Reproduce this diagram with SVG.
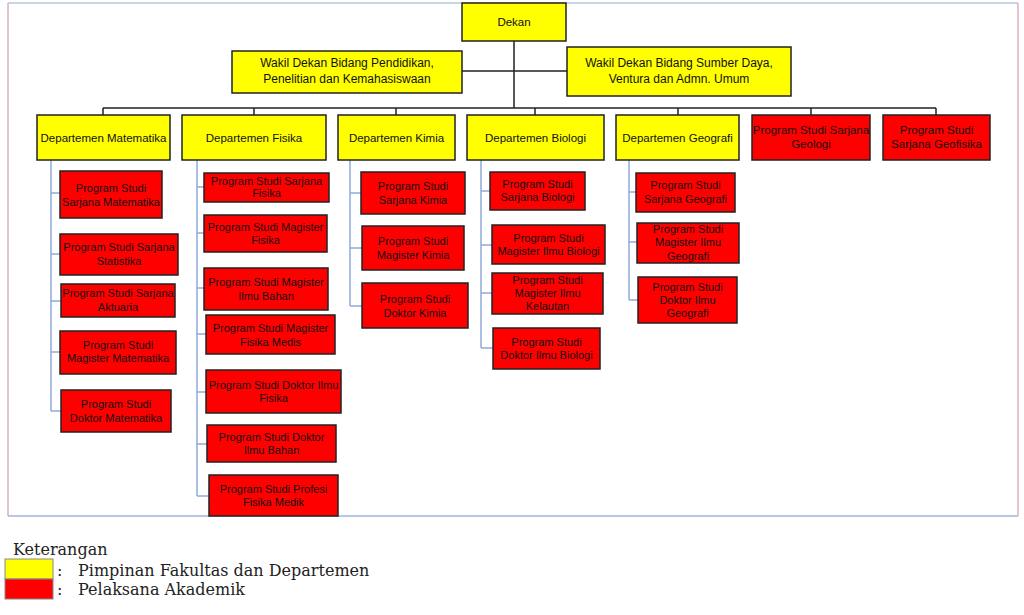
<svg xmlns="http://www.w3.org/2000/svg" width="1024" height="615" viewBox="0 0 1024 615">
<style>
.y{fill:#ffff00;stroke:#222;stroke-width:1.5}
.r{fill:#ff0000;stroke:#222;stroke-width:1.5}
.t{font-family:"Liberation Sans",Arial,sans-serif;font-size:11px;fill:#111;text-anchor:middle}
.td{font-family:"Liberation Sans",Arial,sans-serif;font-size:11.5px;fill:#111;text-anchor:middle}
.tw{font-family:"Liberation Sans",Arial,sans-serif;font-size:12px;fill:#111;text-anchor:middle}
.k{stroke:#222;stroke-width:1.5;fill:none}
.b{stroke:#8eaad8;stroke-width:1.5;fill:none}
.lg{font-family:"DejaVu Serif","Liberation Serif",serif;font-size:16px;fill:#222}
</style>
<rect width="1024" height="615" fill="#fff"/>
<g id="frame">
<line x1="8" y1="3" x2="1018" y2="3" stroke="#b8c8dc" stroke-width="1.5"/>
<line x1="8" y1="3" x2="8" y2="516" stroke="#d8b0c0" stroke-width="1.5"/>
<line x1="1018" y1="3" x2="1018" y2="516" stroke="#d8b0c8" stroke-width="1.5"/>
<line x1="8" y1="516" x2="1018" y2="516" stroke="#a0b4d8" stroke-width="1.5"/>
</g>
<g id="connectors">
<path class="k" d="M514 41V108M462 71H567M103 108H936M103 108V115M254 108V115M396 108V115M535 108V115M678 108V115M811 108V115M936 108V115"/>
<path class="b" d="M51 160V411M51 193H60M51 254H60M51 301H61M51 352H60M51 411H61"/>
<path class="b" d="M197 160V496M197 187H204M197 233H204M197 288H204M197 334H206M197 392H206M197 444H207M197 496H209"/>
<path class="b" d="M350 160V306M350 193H361M350 248H362M350 306H362"/>
<path class="b" d="M481 160V348M481 191H490M481 245H492M481 293H492M481 348H493"/>
<path class="b" d="M629 160V300M629 192H636M629 242H637M629 300H638"/>
</g>
<g id="dekan"><rect class="y" x="462" y="3" width="104" height="38"/><text class="td" x="514" y="26">Dekan</text></g>
<g id="wakil1"><rect class="y" x="232" y="51" width="230" height="42"/><text class="tw" x="347" y="67">Wakil Dekan Bidang Pendidikan,</text><text class="tw" x="347" y="83">Penelitian dan Kemahasiswaan</text></g>
<g id="wakil2"><rect class="y" x="567" y="47" width="224" height="49"/><text class="tw" x="679" y="67">Wakil Dekan Bidang Sumber Daya,</text><text class="tw" x="679" y="83">Ventura dan Admn. Umum</text></g>
<g id="dep-mat"><rect class="y" x="37" y="115" width="133" height="45"/><text class="td" x="103.5" y="141.5">Departemen Matematika</text></g>
<g id="dep-fis"><rect class="y" x="182" y="115" width="144" height="45"/><text class="td" x="254" y="141.5">Departemen Fisika</text></g>
<g id="dep-kim"><rect class="y" x="338" y="115" width="117" height="45"/><text class="td" x="396.5" y="141.5">Departemen Kimia</text></g>
<g id="dep-bio"><rect class="y" x="467" y="115" width="137" height="45"/><text class="td" x="535.5" y="141.5">Departemen Biologi</text></g>
<g id="dep-geo"><rect class="y" x="616" y="115" width="123" height="45"/><text class="td" x="677.5" y="141.5">Departemen Geografi</text></g>
<g id="ps-geologi"><rect class="r" x="752" y="115" width="118" height="45"/><text class="td" x="811" y="134">Program Studi Sarjana</text><text class="td" x="811" y="148">Geologi</text></g>
<g id="ps-geofisika"><rect class="r" x="883" y="115" width="107" height="45"/><text class="td" x="936.5" y="134">Program Studi</text><text class="td" x="936.5" y="148">Sarjana Geofisika</text></g>

<g id="mat1"><rect class="r" x="60" y="171" width="102" height="47"/><text class="t" x="111" y="192">Program Studi</text><text class="t" x="111" y="206">Sarjana Matematika</text></g>
<g id="mat2"><rect class="r" x="60" y="234" width="118" height="41"/><text class="t" x="119" y="251">Program Studi Sarjana</text><text class="t" x="119" y="265">Statistika</text></g>
<g id="mat3"><rect class="r" x="61" y="284" width="114" height="33"/><text class="t" x="118" y="297">Program Studi Sarjana</text><text class="t" x="118" y="311">Aktuaria</text></g>
<g id="mat4"><rect class="r" x="60" y="331" width="116" height="43"/><text class="t" x="118" y="349">Program Studi</text><text class="t" x="118" y="362">Magister Matematika</text></g>
<g id="mat5"><rect class="r" x="61" y="390" width="110" height="42"/><text class="t" x="116" y="408">Program Studi</text><text class="t" x="116" y="422">Doktor Matematika</text></g>

<g id="fis1"><rect class="r" x="204" y="173" width="125" height="29"/><text class="t" x="266.5" y="185">Program Studi Sarjana</text><text class="t" x="266.5" y="197">Fisika</text></g>
<g id="fis2"><rect class="r" x="204" y="215" width="123" height="37"/><text class="t" x="265.5" y="231">Program Studi Magister</text><text class="t" x="265.5" y="244">Fisika</text></g>
<g id="fis3"><rect class="r" x="204" y="268" width="124" height="42"/><text class="t" x="266" y="286">Program Studi Magister</text><text class="t" x="266" y="300">Ilmu Bahan</text></g>
<g id="fis4"><rect class="r" x="206" y="315" width="129" height="39"/><text class="t" x="270.5" y="332">Program Studi Magister</text><text class="t" x="270.5" y="346">Fisika Medis</text></g>
<g id="fis5"><rect class="r" x="206" y="370" width="135" height="43"/><text class="t" x="273.5" y="389">Program Studi Doktor Ilmu</text><text class="t" x="273.5" y="402">Fisika</text></g>
<g id="fis6"><rect class="r" x="207" y="425" width="129" height="37"/><text class="t" x="271.5" y="441">Program Studi Doktor</text><text class="t" x="271.5" y="454">Ilmu Bahan</text></g>
<g id="fis7"><rect class="r" x="209" y="475" width="129" height="41"/><text class="t" x="273.5" y="493">Program Studi Profesi</text><text class="t" x="273.5" y="506">Fisika Medik</text></g>

<g id="kim1"><rect class="r" x="361" y="172" width="104" height="42"/><text class="t" x="413" y="190">Program Studi</text><text class="t" x="413" y="204">Sarjana Kimia</text></g>
<g id="kim2"><rect class="r" x="362" y="226" width="102" height="44"/><text class="t" x="413" y="245">Program Studi</text><text class="t" x="413" y="259">Magister Kimia</text></g>
<g id="kim3"><rect class="r" x="362" y="283" width="106" height="45"/><text class="t" x="415" y="303">Program Studi</text><text class="t" x="415" y="317">Doktor Kimia</text></g>

<g id="bio1"><rect class="r" x="490" y="172" width="95" height="38"/><text class="t" x="537.5" y="188">Program Studi</text><text class="t" x="537.5" y="201">Sarjana Biologi</text></g>
<g id="bio2"><rect class="r" x="492" y="225" width="113" height="39"/><text class="t" x="548.5" y="242">Program Studi</text><text class="t" x="548.5" y="255">Magister Ilmu Biologi</text></g>
<g id="bio3"><rect class="r" x="492" y="273" width="111" height="41"/><text class="t" x="547.5" y="284">Program Studi</text><text class="t" x="547.5" y="297">Magister Ilmu</text><text class="t" x="547.5" y="310">Kelautan</text></g>
<g id="bio4"><rect class="r" x="493" y="328" width="107" height="41"/><text class="t" x="546.5" y="346">Program Studi</text><text class="t" x="546.5" y="359">Doktor Ilmu Biologi</text></g>

<g id="geo1"><rect class="r" x="636" y="173" width="99" height="39"/><text class="t" x="685.5" y="189">Program Studi</text><text class="t" x="685.5" y="203">Sarjana Geografi</text></g>
<g id="geo2"><rect class="r" x="637" y="223" width="102" height="40"/><text class="t" x="688" y="233">Program Studi</text><text class="t" x="688" y="246">Magister Ilmu</text><text class="t" x="688" y="260">Geografi</text></g>
<g id="geo3"><rect class="r" x="638" y="277" width="99" height="46"/><text class="t" x="687.5" y="291">Program Studi</text><text class="t" x="687.5" y="304">Doktor Ilmu</text><text class="t" x="687.5" y="317">Geografi</text></g>

<g id="legend">
<text class="lg" x="13" y="555">Keterangan</text>
<rect x="5" y="559" width="48" height="20" fill="#ffff00" stroke="#888" stroke-width="1"/>
<rect x="5" y="579" width="48" height="20" fill="#ff0000" stroke="#888" stroke-width="1"/>
<text class="lg" x="57" y="576">:</text>
<text class="lg" x="57" y="595">:</text>
<text class="lg" x="78" y="576">Pimpinan Fakultas dan Departemen</text>
<text class="lg" x="78" y="595">Pelaksana Akademik</text>
</g>
</svg>
